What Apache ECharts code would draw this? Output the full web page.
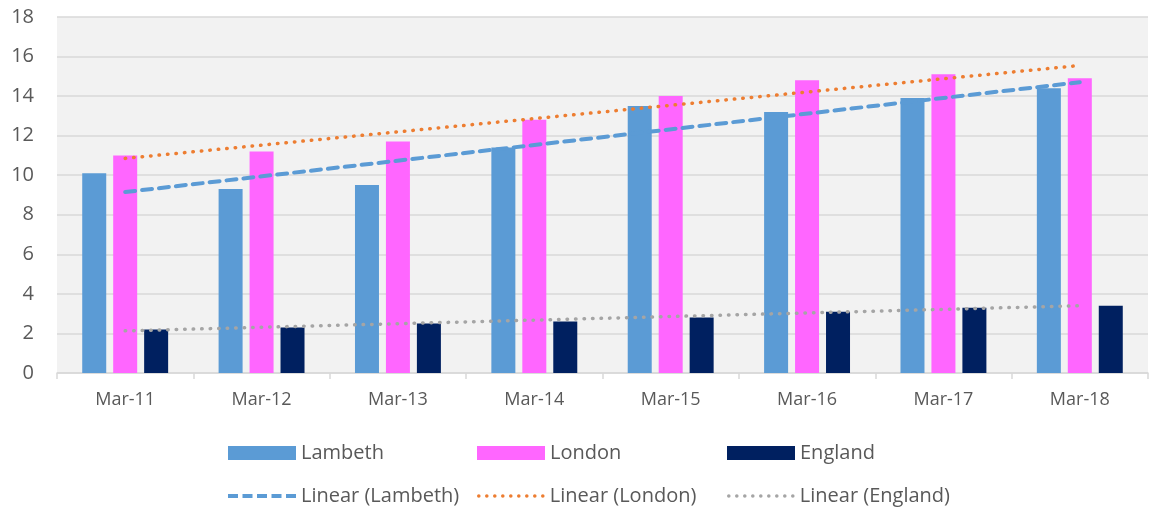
<!DOCTYPE html>
<html>
<head>
<meta charset="utf-8">
<script src="https://cdn.jsdelivr.net/npm/echarts@6/dist/echarts.min.js"></script>
<style>
  html, body { margin: 0; padding: 0; background: #fff; }
  #main { width: 1154px; height: 512px; }
</style>
</head>
<body>
<div id="main"></div>
<script>
// categories + values
var months = ["Mar-11", "Mar-12", "Mar-13", "Mar-14", "Mar-15", "Mar-16", "Mar-17", "Mar-18"];
var lambeth = [10.1, 9.3, 9.5, 11.4, 13.5, 13.2, 13.9, 14.4];
var london = [11.0, 11.2, 11.7, 12.8, 14.0, 14.8, 15.1, 14.9];
var england = [2.2, 2.3, 2.5, 2.6, 2.8, 3.1, 3.3, 3.4];
// trend line end points (first and last month)
var lambethTrend = [9.15, 14.7];
var londonTrend = [10.85, 15.55];
var englandTrend = [2.13, 3.4];
var yTicks = [0, 18, 2];

var txt = "#595959";
var font = "Open Sans";

function trendData(ends) {
  return [[months[0], ends[0]], [months[months.length - 1], ends[1]]];
}

// legend icons drawn as paths so they look like the dashed / dotted lines
function dashIcon() {
  var p = "path://";
  for (var i = 0; i < 5; i++) {
    var x = i * 14.5;
    p += "M" + x + ",0h10v4h-10z";
  }
  return p;
}
function dotIcon() {
  var p = "path://";
  for (var i = 0; i < 9; i++) {
    var x = i * 8;
    p += "M" + x + ",1.8a1.8,1.8 0 1,0 3.6,0a1.8,1.8 0 1,0 -3.6,0z";
  }
  return p;
}

function legendAt(name, left, top, icon, h) {
  return {
    data: [name],
    left: left,
    top: top,
    icon: icon,
    itemWidth: 68,
    itemHeight: h,
    selectedMode: false,
    textStyle: { color: txt, fontSize: 20, fontFamily: font }
  };
}

var myChart = echarts.init(document.getElementById("main"));

myChart.setOption({
  backgroundColor: "#fff",
  animation: false,
  grid: {
    left: 57,
    right: 6,
    top: 17,
    bottom: 139,
    show: true,
    backgroundColor: "#f2f2f2",
    borderWidth: 0
  },
  legend: [
    legendAt("Lambeth", 223, 438, "rect", 14),
    legendAt("London", 472, 438, "rect", 14),
    legendAt("England", 722, 438, "rect", 14),
    legendAt("Linear (Lambeth)", 223, 481, dashIcon(), 4),
    legendAt("Linear (London)", 472, 481, dotIcon(), 3.6),
    legendAt("Linear (England)", 722, 481, dotIcon(), 3.6)
  ],
  xAxis: {
    type: "category",
    data: months,
    axisLine: { lineStyle: { color: "#d9d9d9", width: 1.5 } },
    axisTick: { show: true, length: 6, lineStyle: { color: "#d9d9d9", width: 1.5 } },
    axisLabel: { color: txt, fontSize: 18, fontFamily: font, margin: 18 }
  },
  yAxis: {
    type: "value",
    min: yTicks[0],
    max: yTicks[1],
    interval: yTicks[2],
    axisLine: { show: false },
    axisTick: { show: false },
    splitLine: { lineStyle: { color: "#d9d9d9", width: 1.5 } },
    axisLabel: { color: txt, fontSize: 20, fontFamily: font, margin: 23 }
  },
  series: [
    {
      name: "Lambeth", type: "bar", data: lambeth,
      barWidth: 24, barGap: "29%",
      itemStyle: { color: "#5b9bd5" }
    },
    {
      name: "London", type: "bar", data: london,
      barWidth: 24, barGap: "29%",
      itemStyle: { color: "#ff66ff" }
    },
    {
      name: "England", type: "bar", data: england,
      barWidth: 24, barGap: "29%",
      itemStyle: { color: "#002060" }
    },
    {
      name: "Linear (Lambeth)", type: "line", data: trendData(lambethTrend),
      symbol: "none", z: 5,
      lineStyle: { color: "#5b9bd5", width: 4, type: [10, 7], cap: "round" },
      itemStyle: { color: "#5b9bd5" }
    },
    {
      name: "Linear (London)", type: "line", data: trendData(londonTrend),
      symbol: "none", z: 5,
      lineStyle: { color: "#ed7d31", width: 3.5, type: [0.5, 8], cap: "round" },
      itemStyle: { color: "#ed7d31" }
    },
    {
      name: "Linear (England)", type: "line", data: trendData(englandTrend),
      symbol: "none", z: 5,
      lineStyle: { color: "#a5a5a5", width: 3.5, type: [0.5, 8], cap: "round" },
      itemStyle: { color: "#a5a5a5" }
    }
  ]
});
</script>
</body>
</html>
